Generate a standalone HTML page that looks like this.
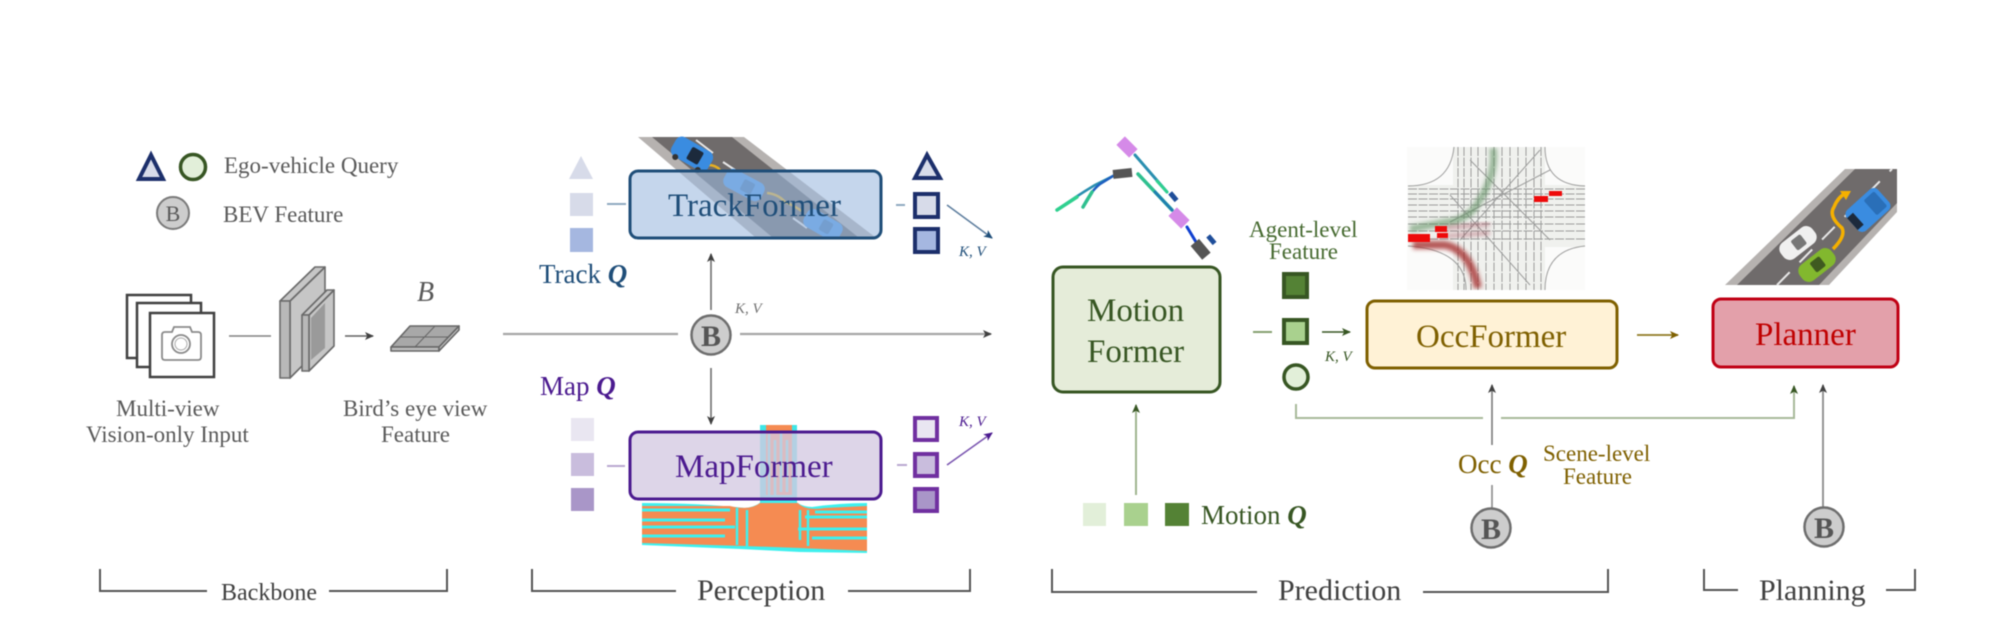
<!DOCTYPE html>
<html><head><meta charset="utf-8"><style>
html,body{margin:0;padding:0;background:#fff;width:2000px;height:642px;overflow:hidden}
svg{display:block;filter:blur(.65px)}
text{font-family:"Liberation Serif",serif}
.g{fill:#595959;font-size:23px}
.h{fill:#404040;font-size:30px}
.kv{font-size:15px;font-style:italic}
.q{font-weight:bold;font-style:italic}
.bc{fill:#cdcdcd;stroke:#6e6e6e;stroke-width:2.5}
.bt{fill:#555;font-size:30px;font-weight:bold;text-anchor:middle}
</style></head><body>
<svg width="2000" height="642" viewBox="0 0 2000 642" xmlns="http://www.w3.org/2000/svg">
<defs>
<marker id="ag" markerUnits="userSpaceOnUse" markerWidth="10" markerHeight="9" refX="8" refY="4.5" orient="auto"><path d="M0,0.5L9,4.5L0,8.5L2.2,4.5z" fill="#404040"/></marker>
<marker id="agr" markerUnits="userSpaceOnUse" markerWidth="10" markerHeight="9" refX="8" refY="4.5" orient="auto"><path d="M0,0.5L9,4.5L0,8.5L2.2,4.5z" fill="#375623"/></marker>
<marker id="ab" markerUnits="userSpaceOnUse" markerWidth="10" markerHeight="9" refX="8" refY="4.5" orient="auto"><path d="M0,0.5L9,4.5L0,8.5L2.2,4.5z" fill="#1f4e79"/></marker>
<marker id="ap" markerUnits="userSpaceOnUse" markerWidth="10" markerHeight="9" refX="8" refY="4.5" orient="auto"><path d="M0,0.5L9,4.5L0,8.5L2.2,4.5z" fill="#4b1a8f"/></marker>
<marker id="ao" markerUnits="userSpaceOnUse" markerWidth="10" markerHeight="9" refX="8" refY="4.5" orient="auto"><path d="M0,0.5L9,4.5L0,8.5L2.2,4.5z" fill="#7f6000"/></marker>
<clipPath id="tc"><rect x="620" y="130" width="270" height="108"/></clipPath>
<clipPath id="oc"><rect x="1407" y="147" width="178" height="143"/></clipPath>
<filter id="soft" x="-20%" y="-20%" width="140%" height="140%"><feGaussianBlur stdDeviation="2"/></filter>
</defs>

<!-- legend -->
<polygon points="151,155 139,179 163,179" fill="#d7dbe9" stroke="#1c2f6b" stroke-width="4"/>
<circle cx="193" cy="167" r="12.5" fill="#e2efd9" stroke="#375623" stroke-width="3.5"/>
<text class="g" x="224" y="173">Ego-vehicle Query</text>
<circle cx="173" cy="213" r="16" fill="#cdcdcd" stroke="#7a7a7a" stroke-width="2"/>
<text x="173" y="221" font-size="22" fill="#595959" text-anchor="middle">B</text>
<text class="g" x="223" y="222">BEV Feature</text>

<!-- camera stack -->
<g fill="#fff" stroke="#404040" stroke-width="2.5">
<rect x="127" y="295" width="64" height="63"/>
<rect x="137" y="303" width="64" height="64"/>
<rect x="150" y="313" width="64" height="64"/>
</g>
<path d="M165,332H172L174,327H190L192,332H198Q201,332 201,335V357Q201,360 198,360H165Q162,360 162,357V335Q162,332 165,332Z" fill="none" stroke="#8a8a8a" stroke-width="1.8"/>
<circle cx="181" cy="344" r="9" fill="none" stroke="#8a8a8a" stroke-width="1.8"/>
<circle cx="181" cy="344" r="6" fill="none" stroke="#aaa" stroke-width="1"/>
<line x1="229" y1="336" x2="271" y2="336" stroke="#808080" stroke-width="1.6"/>

<!-- backbone blocks -->
<g stroke="#6a6a6a" stroke-width="1.6" stroke-linejoin="round">
<polygon points="290,301 325,267 325,343 290,378" fill="#c6c6c6"/>
<polygon points="280,301 315,267 325,267 290,301" fill="#c6c6c6"/>
<rect x="280" y="301" width="10" height="77" fill="#b8b8b8"/>
<polygon points="309,315 334,290 334,346 309,371" fill="#c6c6c6"/>
<polygon points="302,315 327,290 334,290 309,315" fill="#c6c6c6"/>
<rect x="302" y="315" width="7" height="56" fill="#b8b8b8"/>
<polygon points="311,318 325,303 325,348 311,360" fill="#9a9a9a" stroke="none"/>
</g>
<line x1="345" y1="336" x2="373" y2="336" stroke="#606060" stroke-width="1.6" marker-end="url(#ag)"/>

<!-- BEV plate -->
<text x="417" y="301" font-size="28" font-style="italic" fill="#595959">B</text>
<g stroke="#666" stroke-width="1.6" stroke-linejoin="round">
<polygon points="391,347 410,326 459,326 439,347" fill="#a8a8a8"/>
<polygon points="391,347 439,347 439,351 391,351" fill="#bdbdbd"/>
<polygon points="439,347 459,326 459,330 439,351" fill="#bdbdbd"/>
<path d="M400,337H449M435,326L415,347" fill="none" stroke-width="1"/>
</g>
<text class="g" x="116" y="416">Multi-view</text>
<text class="g" x="86" y="442">Vision-only Input</text>
<text class="g" x="343" y="416">Bird’s eye view</text>
<text class="g" x="381" y="442">Feature</text>

<!-- track road -->
<g clip-path="url(#tc)">
<polygon points="638,137 744,137 875,237 755,237" fill="#b6b2b0"/>
<polygon points="652,137 732,137 858,237 772,237" fill="#6f6b6b"/>
<path d="M696,140L713,153M723,162L735,170M793,218L807,228" stroke="#e8e8e8" stroke-width="2"/>
<path d="M708,165Q716,165 720,170M767,193Q778,194 785,202Q795,206 803,212" stroke="#e8b020" stroke-width="2.5" fill="none"/>
<g transform="translate(692,154) rotate(30)"><rect x="-21" y="-11" width="42" height="22" rx="7" fill="#3a8ce0"/><rect x="-3" y="-7" width="13" height="14" rx="2" fill="#1c2a3c"/><circle cx="-13" cy="11" r="3" fill="#333"/><circle cx="13" cy="11" r="3" fill="#333"/></g>
<g transform="translate(744,185) rotate(28)"><rect x="-21" y="-10" width="42" height="20" rx="7" fill="#4a98e8"/><rect x="-2" y="-6" width="12" height="12" rx="2" fill="#3a78b8"/></g>
<g transform="translate(823,225) rotate(30)"><rect x="-20" y="-10" width="40" height="20" rx="7" fill="#4a98e8"/><rect x="-2" y="-6" width="11" height="12" rx="2" fill="#3a78b8"/></g>
</g>
<rect x="630" y="171" width="251" height="67" rx="8" fill="rgba(157,186,223,.59)" stroke="#1f4e79" stroke-width="3"/>
<text x="668" y="216" font-size="33" fill="#1f4e79">TrackFormer</text>

<!-- track stacks -->
<polygon points="581,156 569,179 593,179" fill="#d7dbe9"/>
<rect x="570" y="193" width="23" height="23" fill="#d7dbe9"/>
<rect x="570" y="228" width="23" height="24" fill="#a5b7e0"/>
<line x1="607" y1="204" x2="626" y2="204" stroke="#8fa9c0" stroke-width="2"/>
<text x="539" y="283" font-size="27" fill="#1f4e79">Track <tspan class="q">Q</tspan></text>
<polygon points="927,155 915,178 940,178" fill="#d7dbe9" stroke="#1c2f6b" stroke-width="4"/>
<rect x="915" y="194" width="23" height="23" fill="#d7dbe9" stroke="#1c2f6b" stroke-width="4"/>
<rect x="915" y="229" width="23" height="23" fill="#a5b7e0" stroke="#1c2f6b" stroke-width="4"/>
<line x1="896" y1="205" x2="905" y2="205" stroke="#8fa9c0" stroke-width="2"/>
<line x1="947" y1="205" x2="992" y2="238" stroke="#5f7f9f" stroke-width="1.6" marker-end="url(#ab)"/>
<text class="kv" x="959" y="256" fill="#1f4e79">K, V</text>

<!-- central B -->
<line x1="503" y1="334" x2="678" y2="334" stroke="#a6a6a6" stroke-width="2.2"/>
<line x1="740" y1="334" x2="991" y2="334" stroke="#a6a6a6" stroke-width="2.2" marker-end="url(#ag)"/>
<line x1="711" y1="310" x2="711" y2="254" stroke="#6e6e6e" stroke-width="1.6" marker-end="url(#ag)"/>
<line x1="711" y1="368" x2="711" y2="424" stroke="#6e6e6e" stroke-width="1.6" marker-end="url(#ag)"/>
<circle cx="711" cy="335" r="19.5" class="bc"/>
<text x="711" y="346" class="bt">B</text>
<text class="kv" x="735" y="313" fill="#707070">K, V</text>

<!-- map image -->
<text x="540" y="395" font-size="27" fill="#4b1a8f">Map <tspan class="q">Q</tspan></text>
<rect x="760" y="425" width="37" height="85" fill="#3fe6e6"/>
<rect x="766" y="425" width="26" height="85" fill="#f58b52"/>
<path d="M769,434V495M775,440V495M781,432V492M787,440V492" stroke="#3ff0ee" stroke-width="2.5"/>
<path d="M642,503Q700,503 745,508Q762,506 765,495H792Q795,506 812,507Q840,503 867,503V553L800,552L740,549L642,545Z" fill="#3ff0ee"/>
<path d="M642,506H730Q750,511 760,503H798Q805,511 825,508L867,506V551L800,548L745,546L642,543Z" fill="#f58b52"/>
<path d="M642,510H730M642,520H725M642,527H735M642,536H725M805,517H867M798,529H867M812,538H867M815,512H867" stroke="#3ff0ee" stroke-width="3" fill="none"/>
<path d="M737,508V545M747,510V546M800,510V540M808,510V546" stroke="#3ff0ee" stroke-width="2.5" fill="none"/>
<rect x="630" y="432" width="251" height="67" rx="8" fill="rgba(211,201,226,.78)" stroke="#4b1a8f" stroke-width="3"/>
<text x="675" y="477" font-size="33" fill="#4b1a8f">MapFormer</text>
<rect x="571" y="418" width="23" height="23" fill="#e9e6f1"/>
<rect x="571" y="453" width="23" height="23" fill="#c9bddd"/>
<rect x="571" y="488" width="23" height="23" fill="#a996c8"/>
<line x1="607" y1="466" x2="625" y2="466" stroke="#b9a8d0" stroke-width="2"/>
<line x1="897" y1="465" x2="907" y2="465" stroke="#b9a8d0" stroke-width="2"/>
<g stroke="#7030a0" stroke-width="4">
<rect x="915" y="418" width="22" height="22" fill="#e9e6f1"/>
<rect x="915" y="454" width="22" height="22" fill="#c9bddd"/>
<rect x="915" y="489" width="22" height="22" fill="#a996c8"/>
</g>
<line x1="947" y1="465" x2="992" y2="433" stroke="#7a55b0" stroke-width="1.6" marker-end="url(#ap)"/>
<text class="kv" x="959" y="426" fill="#4b1a8f">K, V</text>

<!-- motion trajectories -->
<g fill="none" stroke-linecap="round">
<path d="M1057,210Q1075,197 1095,185L1113,176" stroke="#2a8fb0" stroke-width="2.5"/>
<path d="M1057,210L1077,197" stroke="#2fd08f" stroke-width="3.5"/>
<path d="M1083,207Q1090,192 1100,184L1113,176" stroke="#1f60c0" stroke-width="2.5"/>
<path d="M1083,207L1092,192" stroke="#2fc08f" stroke-width="3.5"/>
<path d="M1135,155L1167,192" stroke="#2a8fb0" stroke-width="3"/>
<path d="M1157,181L1167,192" stroke="#2fd08f" stroke-width="3"/>
<path d="M1138,174L1172,210" stroke="#2fc08f" stroke-width="3.5"/>
<path d="M1155,192L1172,210" stroke="#1f7fb0" stroke-width="3"/>
<path d="M1187,227L1196,242" stroke="#1040d0" stroke-width="3"/>
</g>
<rect x="1113" y="169" width="19" height="9" fill="#555" transform="rotate(-6 1122 173)"/>
<rect x="1118" y="141" width="18" height="12" fill="#d58ae8" transform="rotate(45 1127 147)"/>
<rect x="1170" y="212" width="18" height="12" fill="#d58ae8" transform="rotate(45 1179 218)"/>
<rect x="1192" y="244" width="18" height="11" fill="#555" transform="rotate(50 1201 249)"/>
<rect x="1168" y="194" width="10" height="5" fill="#1f4e9a" transform="rotate(50 1173 197)"/>
<rect x="1206" y="237" width="10" height="5" fill="#1f4e9a" transform="rotate(50 1211 240)"/>

<!-- motion box -->
<rect x="1053" y="267" width="167" height="125" rx="10" fill="#e5ecd9" stroke="#375623" stroke-width="3"/>
<text x="1087" y="321" font-size="33" fill="#375623">Motion</text>
<text x="1087" y="362" font-size="33" fill="#375623">Former</text>
<line x1="1136" y1="495" x2="1136" y2="405" stroke="#9fb48f" stroke-width="2" marker-end="url(#agr)"/>
<rect x="1083" y="503" width="23" height="23" fill="#e2efd9"/>
<rect x="1124" y="503" width="24" height="23" fill="#a9d18e"/>
<rect x="1165" y="503" width="24" height="23" fill="#548235"/>
<text x="1201" y="524" font-size="27" fill="#375623">Motion <tspan class="q">Q</tspan></text>

<!-- agent features -->
<text x="1249" y="237" font-size="23" fill="#466a30">Agent-level</text>
<text x="1269" y="259" font-size="23" fill="#466a30">Feature</text>
<rect x="1284" y="274" width="23" height="23" fill="#548235" stroke="#375623" stroke-width="4"/>
<rect x="1284" y="320" width="23" height="23" fill="#a9d18e" stroke="#375623" stroke-width="4"/>
<circle cx="1296" cy="377" r="12" fill="#e2efd9" stroke="#375623" stroke-width="3.5"/>
<line x1="1253" y1="332" x2="1272" y2="332" stroke="#86a070" stroke-width="2"/>
<line x1="1322" y1="332" x2="1350" y2="332" stroke="#375623" stroke-width="1.6" marker-end="url(#agr)"/>
<text class="kv" x="1325" y="361" fill="#375623">K, V</text>

<!-- occ image -->
<g clip-path="url(#oc)">
<rect x="1407" y="147" width="178" height="143" fill="#fbfbfa"/>
<rect x="1408" y="185" width="178" height="62" fill="#f0f1ee"/>
<rect x="1453" y="147" width="92" height="143" fill="#f0f1ee"/>
<g stroke="#666" stroke-width="1" fill="none" opacity=".6">
<path d="M1408,189H1585M1408,194H1585M1408,199H1585M1408,205H1585M1408,211H1585M1408,217H1585M1408,224H1585M1408,231H1585M1408,239H1585" stroke-dasharray="9 1.5"/>
<path d="M1458,147V290M1464,147V290M1471,147V290M1478,147V290M1486,147V290M1494,147V290M1502,147V290M1510,147V290M1518,147V290M1526,147V290M1534,147V290M1541,147V290" stroke-dasharray="9 1.5"/>
<path d="M1408,186Q1450,186 1454,147M1466,290Q1466,250 1408,246M1545,147Q1545,185 1585,186M1545,290Q1545,250 1585,246M1450,222L1550,170M1460,240L1540,150M1470,160L1550,240M1450,195L1530,285"/>
</g>
<path d="M1493,148Q1497,178 1473,210Q1460,222 1447,222L1410,229" fill="none" stroke="#5f9060" stroke-width="7" opacity=".6" filter="url(#soft)"/>
<path d="M1413,245H1445Q1470,250 1478,288" fill="none" stroke="#a02020" stroke-width="8" opacity=".75" filter="url(#soft)"/>
<path d="M1445,228L1490,224M1447,236L1490,233" stroke="#a04050" stroke-width="4" opacity=".45" filter="url(#soft)"/>
<g fill="#ee0a0a">
<rect x="1408" y="234" width="22" height="8"/>
<rect x="1435" y="226" width="12" height="6"/>
<rect x="1437" y="233" width="11" height="5"/>
<rect x="1534" y="196" width="14" height="6"/>
<rect x="1549" y="191" width="13" height="5"/>
</g>
</g>

<!-- occformer -->
<rect x="1367" y="301" width="250" height="67" rx="8" fill="#fff2d6" stroke="#7f6000" stroke-width="3"/>
<text x="1416" y="347" font-size="33" fill="#7f6000">OccFormer</text>
<line x1="1637" y1="335" x2="1678" y2="335" stroke="#8f7a20" stroke-width="1.8" marker-end="url(#ao)"/>

<!-- planner road -->
<polygon points="1845,169 1897,169 1897,212 1829,285 1725,285" fill="#b6b2b0"/>
<polygon points="1855,169 1897,169 1897,203 1819,285 1737,285" fill="#6f6b6b"/>
<path d="M1777,285L1892,169" stroke="#e8e8e8" stroke-width="2" stroke-dasharray="18 14"/>
<g transform="translate(1798,243) rotate(-38)"><rect x="-20" y="-10" width="40" height="20" rx="8" fill="#f0f0f0"/><rect x="-5" y="-6" width="12" height="12" rx="2" fill="#777"/></g>
<g transform="translate(1817,265) rotate(-38)"><rect x="-20" y="-10" width="40" height="20" rx="8" fill="#82b82e"/><rect x="-5" y="-6" width="12" height="12" rx="2" fill="#3f5a20"/></g>
<g transform="translate(1868,210) rotate(-42)"><rect x="-21" y="-14" width="42" height="28" rx="6" fill="#3a8ce0"/><rect x="-21" y="-8" width="8" height="16" fill="#1c2a3c"/><rect x="3" y="-10" width="14" height="20" rx="2" fill="#2a6fb8"/></g>
<path d="M1833,249Q1846,236 1842,228Q1828,216 1834,207Q1838,197 1846,193" fill="none" stroke="#f5b000" stroke-width="3.5"/>
<polygon points="1851,191 1840,191 1846,200" fill="#f5b000"/>

<!-- planner -->
<rect x="1713" y="299" width="185" height="68" rx="8" fill="#e3a0aa" stroke="#c00014" stroke-width="3"/>
<text x="1755" y="345" font-size="33" fill="#c00000">Planner</text>

<!-- connector -->
<path d="M1296,404V418H1483" fill="none" stroke="#a8b99a" stroke-width="2"/>
<path d="M1501,418H1794V386" fill="none" stroke="#a8b99a" stroke-width="2" marker-end="url(#agr)"/>
<line x1="1492" y1="445" x2="1492" y2="385" stroke="#7a7a7a" stroke-width="1.6" marker-end="url(#ag)"/>
<line x1="1492" y1="485" x2="1492" y2="508" stroke="#8a8a8a" stroke-width="1.6"/>
<text x="1458" y="473" font-size="27" fill="#7f6000">Occ <tspan class="q">Q</tspan></text>
<text x="1543" y="461" font-size="23" fill="#7f6000">Scene-level</text>
<text x="1563" y="484" font-size="23" fill="#7f6000">Feature</text>
<circle cx="1491" cy="528" r="19.5" class="bc"/>
<text x="1491" y="539" class="bt">B</text>
<line x1="1823" y1="507" x2="1823" y2="385" stroke="#8a8a8a" stroke-width="1.8" marker-end="url(#ag)"/>
<circle cx="1824" cy="527" r="19.5" class="bc"/>
<text x="1824" y="538" class="bt">B</text>

<!-- brackets -->
<g fill="none" stroke="#555" stroke-width="2">
<path d="M100,569V591H207M329,591H447V569"/>
<path d="M532,569V591H676M848,591H970V569"/>
<path d="M1052,569V592H1257M1423,592H1608V569"/>
<path d="M1704,569V590H1738M1886,590H1915V569"/>
</g>
<text x="221" y="600" fill="#404040" style="font-size:24px">Backbone</text>
<text class="h" x="697" y="600">Perception</text>
<text class="h" x="1278" y="600">Prediction</text>
<text class="h" x="1759" y="600">Planning</text>
</svg>
</body></html>
